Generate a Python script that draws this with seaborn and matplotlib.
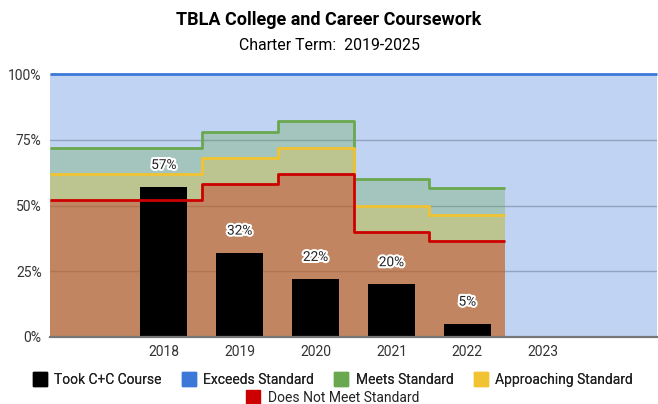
import numpy as np
import pandas as pd
import matplotlib
matplotlib.use("Agg")
import matplotlib.pyplot as plt
import matplotlib.patheffects as pe
from matplotlib.lines import Line2D
import seaborn as sns

# ---- data ----
slots = ["pad_l", "2018", "2019", "2020", "2021", "2022", "2023", "pad_r"]
tick_labels = ["", "2018", "2019", "2020", "2021", "2022", "2023", ""]
bar_years = ["2018", "2019", "2020", "2021", "2022"]
took_cc = [57, 32, 22, 20, 5]
# stepped series (first value is the unlabeled leading slot)
exceeds = [100, 100, 100, 100, 100, 100, 100, 100]
meets = [72, 72, 78, 82, 60, 56.5]
approaching = [62, 62, 68, 72, 50, 46.5]
does_not_meet = [52, 52, 58, 62, 40, 36.5]

series_names = ["Exceeds Standard", "Meets Standard", "Approaching Standard", "Does Not Meet Standard"]
series_vals = [exceeds, meets, approaching, does_not_meet]
series_cols = ["#3c78d8", "#6aa84f", "#f1c232", "#cc0000"]

sns.set_theme(style="white")
plt.rcParams['font.family'] = ['Roboto', 'DejaVu Sans']

fig = plt.figure(figsize=(6.58, 4.04), dpi=100)
ax = fig.add_axes([50/658, 1-337/404, 607/658, 263/404])

df = pd.DataFrame({"Year": bar_years, "Took": took_cc})
sns.barplot(data=df, x="Year", y="Took", order=slots, color="black",
            width=0.62, ax=ax, zorder=4, saturation=1, linewidth=0, edgecolor="black")

# gridlines (under the translucent areas)
for g in [25, 50, 75]:
    ax.axhline(g, color="#b8b8b8", lw=1, zorder=0)

for vals, col in zip(series_vals, series_cols):
    edges = np.arange(len(vals) + 1) - 0.5
    ax.stairs(vals, edges, fill=True, color=col, alpha=0.32, lw=0, baseline=0, zorder=1)
for vals, col in zip(series_vals, series_cols):
    edges = np.arange(len(vals) + 1) - 0.5
    ax.stairs(vals, edges, baseline=None, color=col, lw=2, zorder=5,
              clip_on=False, joinstyle='round', capstyle='butt')

for i, (yr, v) in enumerate(zip(bar_years, took_cc)):
    x = slots.index(yr)
    ax.annotate(f"{v}%", (x, v), xytext=(0, 16), textcoords="offset points",
                ha="center", va="center", fontsize=9.8, color="#222222", zorder=6,
                path_effects=[pe.withStroke(linewidth=3, foreground="white")])

ax.set_xlim(-0.5, 7.5)
ax.set_ylim(0, 100)
ax.set_xticks(range(len(slots)))
ax.set_xticklabels(tick_labels, fontsize=10, color="#333333")
ax.set_yticks([0, 25, 50, 75, 100])
ax.set_yticklabels(["0%", "25%", "50%", "75%", "100%"], fontsize=10, color="#333333")
ax.tick_params(axis="x", length=0, pad=6)
ax.tick_params(axis="y", length=0, pad=6)
ax.set_xlabel("")
ax.set_ylabel("")
for s in ["top", "right", "left"]:
    ax.spines[s].set_visible(False)
ax.spines["bottom"].set_color("#777777")
ax.spines["bottom"].set_linewidth(1.6)
ax.spines["bottom"].set_zorder(7)

fig.text(0.5, 1-20/404, "TBLA College and Career Coursework", ha="center", va="center",
         fontsize=13, fontweight="bold", color="#000000")
fig.text(0.5, 1-45/404, "Charter Term:  2019-2025", ha="center", va="center",
         fontsize=11.4, color="#000000")

names = ["Took C+C Course"] + series_names
cols = ["#000000"] + series_cols
handles = [Line2D([], [], marker="s", ls="", color=c, markersize=10) for c in cols]
common = dict(frameon=False, fontsize=10, handletextpad=0.55, columnspacing=1.45,
              handlelength=1.0, borderpad=0, labelcolor="#222222")
leg1 = fig.legend(handles[:4], names[:4], loc="center", ncol=4,
                  bbox_to_anchor=(333/658, 1-380/404), **common)
fig.add_artist(leg1)
fig.legend(handles[4:], names[4:], loc="center", ncol=1,
           bbox_to_anchor=(333/658, 1-398/404), **common)

fig.savefig("out.png", dpi=100)
